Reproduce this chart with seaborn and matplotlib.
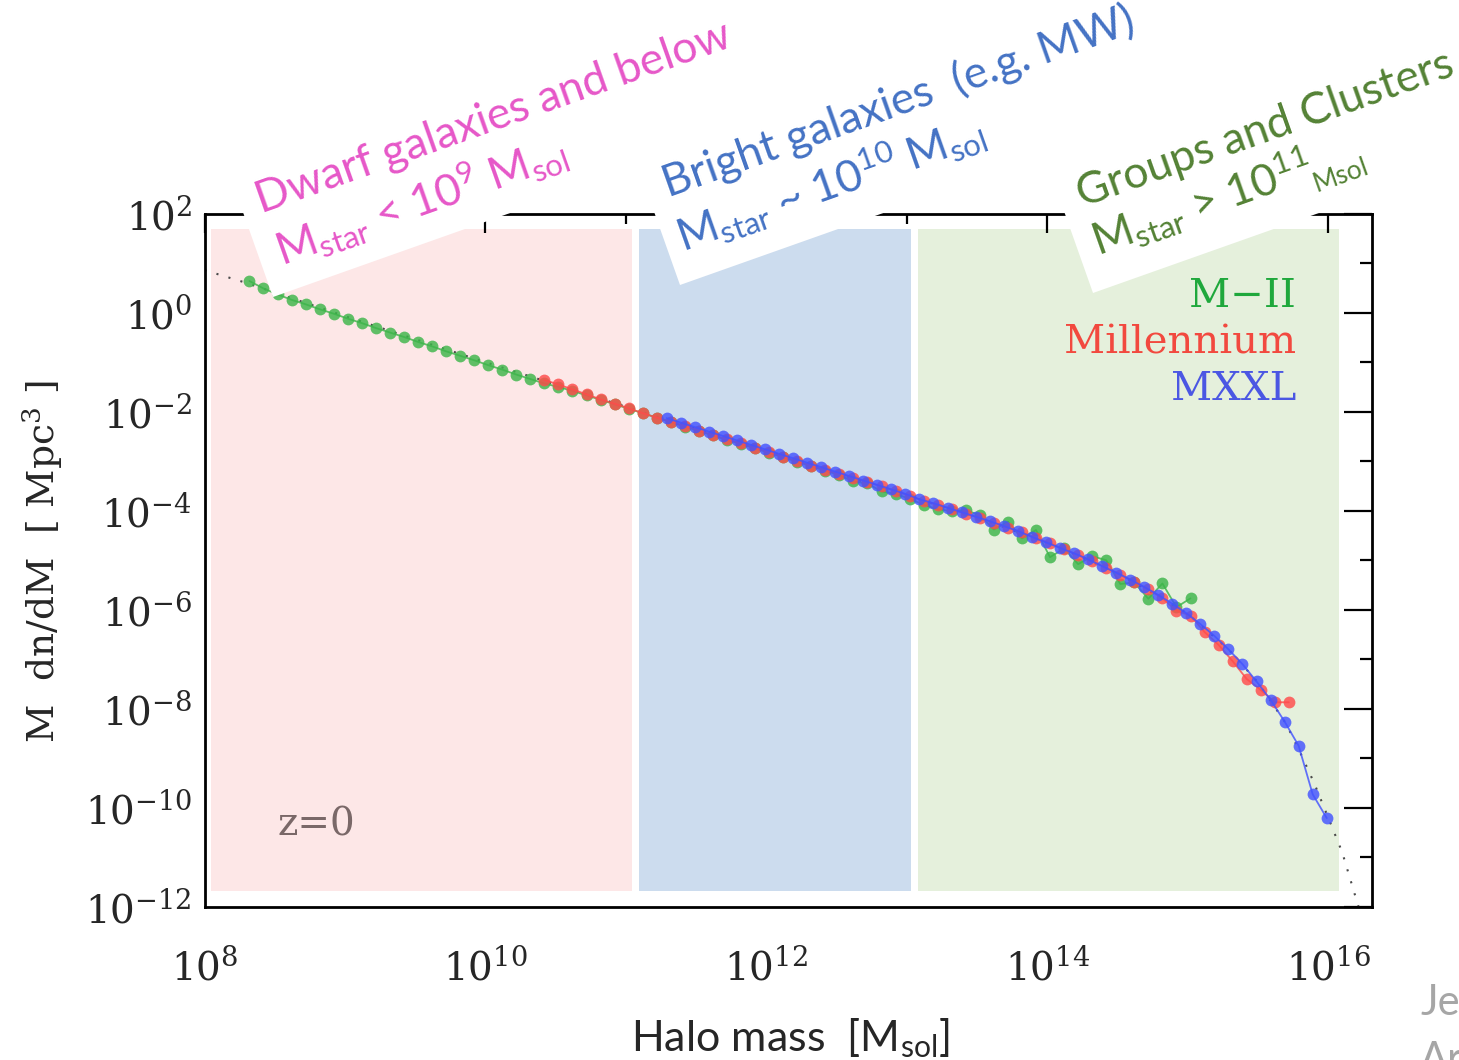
import numpy as np
import pandas as pd
import matplotlib
matplotlib.use("Agg")
import matplotlib.pyplot as plt
import seaborn as sns
from matplotlib.patches import Polygon
from matplotlib.ticker import FixedLocator, NullFormatter

# ---------------- data (log10 values) ----------------
mii_logm = [8.32, 8.42, 8.52, 8.62, 8.72, 8.82, 8.92, 9.02, 9.12, 9.22,
            9.32, 9.42, 9.52, 9.62, 9.72, 9.82, 9.92, 10.02, 10.12, 10.22,
            10.32, 10.42, 10.52, 10.62, 10.72, 10.82, 10.92, 11.02, 11.12, 11.22,
            11.32, 11.42, 11.52, 11.62, 11.72, 11.82, 11.92, 12.02, 12.12, 12.22,
            12.32, 12.42, 12.52, 12.62, 12.72, 12.82, 12.92, 13.02, 13.12, 13.22,
            13.32, 13.42, 13.52, 13.62, 13.72, 13.82, 13.92, 14.02, 14.12, 14.22,
            14.32, 14.42, 14.52, 14.62, 14.72, 14.82, 14.92, 15.02]
mii_logy = [0.64, 0.49, 0.37, 0.26, 0.17, 0.07, -0.02, -0.12, -0.21, -0.31,
            -0.40, -0.49, -0.59, -0.68, -0.78, -0.87, -0.96, -1.06, -1.15, -1.25,
            -1.34, -1.43, -1.50, -1.58, -1.67, -1.76, -1.85, -1.94, -2.03, -2.12,
            -2.21, -2.30, -2.39, -2.48, -2.57, -2.65, -2.74, -2.83, -2.92, -3.01,
            -3.10, -3.19, -3.28, -3.41, -3.45, -3.61, -3.66, -3.76, -3.88, -3.97,
            -4.01, -3.99, -4.09, -4.38, -4.22, -4.56, -4.39, -4.94, -4.76, -5.08,
            -4.92, -5.00, -5.48, -5.45, -5.78, -5.47, -5.95, -5.77]

mill_logm = [10.42, 10.52, 10.62, 10.72, 10.82, 10.92, 11.02, 11.12, 11.22, 11.32,
             11.42, 11.52, 11.62, 11.72, 11.82, 11.92, 12.02, 12.12, 12.22, 12.32,
             12.42, 12.52, 12.62, 12.72, 12.82, 12.92, 13.02, 13.12, 13.22, 13.32,
             13.42, 13.52, 13.62, 13.72, 13.82, 13.92, 14.02, 14.12, 14.22, 14.32,
             14.42, 14.52, 14.62, 14.72, 14.82, 14.92, 15.02, 15.12, 15.22, 15.32,
             15.42, 15.52, 15.62, 15.72]
mill_logy = [-1.36, -1.45, -1.55, -1.65, -1.75, -1.84, -1.93, -2.03, -2.12, -2.20,
             -2.29, -2.38, -2.47, -2.56, -2.64, -2.73, -2.82, -2.91, -3.00, -3.09,
             -3.18, -3.26, -3.33, -3.42, -3.51, -3.60, -3.70, -3.80, -3.88, -3.97,
             -4.06, -4.15, -4.25, -4.34, -4.44, -4.55, -4.66, -4.78, -4.89, -5.02,
             -5.15, -5.29, -5.44, -5.59, -5.77, -6.02, -6.12, -6.45, -6.71, -7.04,
             -7.40, -7.62, -7.87, -7.87]

mxxl_logm = [11.29, 11.39, 11.49, 11.59, 11.69, 11.79, 11.89, 11.99, 12.09, 12.19,
             12.29, 12.39, 12.49, 12.59, 12.69, 12.79, 12.89, 12.99, 13.09, 13.19,
             13.29, 13.39, 13.49, 13.59, 13.69, 13.79, 13.89, 13.99, 14.09, 14.19,
             14.29, 14.39, 14.49, 14.59, 14.69, 14.79, 14.89, 14.99, 15.09, 15.19,
             15.29, 15.39, 15.49, 15.59, 15.69, 15.79, 15.89, 15.99]
mxxl_logy = [-2.13, -2.22, -2.31, -2.40, -2.49, -2.58, -2.67, -2.76, -2.85, -2.94,
             -3.03, -3.12, -3.21, -3.30, -3.39, -3.48, -3.57, -3.66, -3.77, -3.85,
             -3.94, -4.03, -4.12, -4.21, -4.31, -4.41, -4.53, -4.64, -4.75, -4.86,
             -4.98, -5.12, -5.25, -5.39, -5.54, -5.70, -5.88, -6.07, -6.29, -6.53,
             -6.80, -7.10, -7.45, -7.82, -8.26, -8.75, -9.73, -10.21]

fit_logm = [8.0, 8.3, 9.0, 10.0, 11.0, 12.0, 13.0, 13.5, 14.0, 14.5, 15.0, 15.3,
            15.5, 15.7, 15.8, 15.9, 16.0, 16.1, 16.2, 16.26]
fit_logy = [0.86, 0.60, -0.07, -1.00, -1.90, -2.79, -3.69, -4.14, -4.64, -5.26, -6.08, -6.83,
            -7.47, -8.30, -8.88, -9.50, -10.20, -10.90, -11.85, -12.4]

region_lo = [8.045, 11.096, 13.078]
region_hi = [11.047, 13.03, 16.08]
region_bottom = -11.69
region_top = 1.69
region_colors = ["#FDE7E7", "#CCDCEE", "#E5F0DC"]

series_names = ["M\u2212II", "Millennium", "MXXL"]
series_colors = ["#3DB54A", "#FF4B4B", "#4353FF"]
label_colors = ["#1FA83C", "#F2493F", "#4B57E3"]

x_major_exp = [8, 10, 12, 14, 16]
x_minor_exp = [9, 11, 13, 15]
y_major_exp = [-12, -10, -8, -6, -4, -2, 0, 2]
y_minor_exp = [-11, -9, -7, -5, -3, -1, 1]

# ---------------- style ----------------
sns.set_style("white")
plt.rcParams["font.family"] = ["DejaVu Serif"]
plt.rcParams["mathtext.fontset"] = "dejavuserif"

W, H = 1459, 1060
fig = plt.figure(figsize=(W / 100, H / 100), dpi=100)
ax = fig.add_axes([204.5 / W, 1 - 906.7 / H, (1371.7 - 204.5) / W, (906.7 - 213.7) / H])
ax.set_facecolor("white")

# shaded regions
for lo, hi, c in zip(region_lo, region_hi, region_colors):
    ax.fill_between([10 ** lo, 10 ** hi], 10 ** region_bottom, 10 ** region_top,
                    color=c, lw=0, zorder=0)

# analytic fit (dotted)
fit_df = pd.DataFrame({"m": 10 ** np.array(fit_logm), "y": 10 ** np.array(fit_logy)})
sns.lineplot(data=fit_df, x="m", y="y", ax=ax, color="#4a4a4a", lw=1.5,
             linestyle=(0, (1, 5)), sort=False, estimator=None, zorder=1)

# simulation series
for name, lm, ly, c in zip(series_names, [mii_logm, mill_logm, mxxl_logm],
                           [mii_logy, mill_logy, mxxl_logy], series_colors):
    df = pd.DataFrame({"m": 10 ** np.array(lm), "y": 10 ** np.array(ly)})
    sns.lineplot(data=df, x="m", y="y", ax=ax, color=c, lw=1.3, marker="o",
                 markersize=8.5, markeredgewidth=0, alpha=0.82, sort=False,
                 estimator=None, zorder=2)

ax.set_xscale("log")
ax.set_yscale("log")
ax.set_xlim(10 ** 8, 10 ** 16.31)
ax.set_ylim(1e-12, 1e2)
ax.set_xlabel("")
ax.set_ylabel("")

ax.xaxis.set_major_locator(FixedLocator([10.0 ** e for e in x_major_exp]))
ax.xaxis.set_minor_locator(FixedLocator([10.0 ** e for e in x_minor_exp]))
ax.yaxis.set_major_locator(FixedLocator([10.0 ** e for e in y_major_exp]))
ax.yaxis.set_minor_locator(FixedLocator([10.0 ** e for e in y_minor_exp]))
ax.xaxis.set_minor_formatter(NullFormatter())
ax.yaxis.set_minor_formatter(NullFormatter())

ax.tick_params(axis="both", which="both", direction="in", top=True, right=True,
               color="black", width=1.6)
ax.tick_params(axis="x", which="major", length=14, pad=30, labelsize=28)
ax.tick_params(axis="x", which="minor", length=7)
ax.tick_params(axis="y", which="major", length=20, pad=9, labelsize=28)
ax.tick_params(axis="y", which="minor", length=9)
for s in ax.spines.values():
    s.set_visible(True)
    s.set_color("black")
    s.set_linewidth(2.0)

# legend-like coloured names
for i, (name, c) in enumerate(zip(series_names, label_colors)):
    fig.text(1296 / W, 1 - (306.7 + 46.7 * i) / H, name, color=c, fontsize=29,
             ha="right", va="baseline", family="DejaVu Serif")

fig.text(316 / W, 1 - 825 / H, "z=0", color="#7a6868", fontsize=28,
         ha="center", va="center", family="DejaVu Serif")

# axis labels
fig.text(43 / W, 1 - 562 / H, "M  dn/dM  [ Mpc$^{3}$ ]", rotation=90, fontsize=27,
         ha="center", va="center", family="DejaVu Serif")
fig.text(790 / W, 1 - 1051 / H, "Halo mass  [M$_{\\mathregular{sol}}$]", fontsize=31,
         ha="center", va="baseline", family="Lato")

# white rotated boxes behind the annotations
ang = np.deg2rad(19.5)
u = np.array([np.cos(ang), -np.sin(ang)])
v = np.array([-np.sin(ang), -np.cos(ang)])
for bl in [(273, 297), (680, 285), (1093, 293)]:
    p0 = np.array(bl, dtype=float)
    pts = [p0, p0 + 700 * u, p0 + 700 * u + 400 * v, p0 + 400 * v]
    pts = [(p[0] / W, 1 - p[1] / H) for p in pts]
    fig.add_artist(Polygon(pts, closed=True, facecolor="white", edgecolor="none",
                           transform=fig.transFigure, zorder=1))

rot = 19.5
ann = [
    ((261.7, 213.3), "Dwarf galaxies and below", "#E657C8"),
    ((281.7, 266.7), "M$_{\\mathregular{star}}$ < 10$^{\\mathregular{9}}$ M$_{\\mathregular{sol}}$", "#E657C8"),
    ((668, 197), "Bright galaxies  (e.g. MW)", "#4472C4"),
    ((683, 253), "M$_{\\mathregular{star}}$ ~ 10$^{\\mathregular{10}}$ M$_{\\mathregular{sol}}$", "#4472C4"),
    ((1082, 207), "Groups and Clusters", "#548235"),
    ((1098, 257), "M$_{\\mathregular{star}}$ > 10$^{\\mathregular{11}}$", "#548235"),
]
for (px, py), s, c in ann:
    fig.text(px / W, 1 - py / H, s, color=c, fontsize=32, family="Lato",
             rotation=rot, rotation_mode="anchor", ha="left", va="baseline", zorder=3)
fig.text(1317 / W, 1 - 192 / H, "Msol", color="#548235", fontsize=19, family="Lato",
         rotation=rot, rotation_mode="anchor", ha="left", va="baseline", zorder=3)

# cut-off footer text at bottom right (partly outside the frame, as in the reference)
fig.text(1420 / W, 1 - 1015 / H, "Je", color="#A6A6A6", fontsize=30, family="Lato",
         ha="left", va="baseline")
fig.text(1420 / W, 1 - 1072 / H, "Ar", color="#A6A6A6", fontsize=30, family="Lato",
         ha="left", va="baseline")

fig.savefig("out.png", dpi=100, facecolor="white")
